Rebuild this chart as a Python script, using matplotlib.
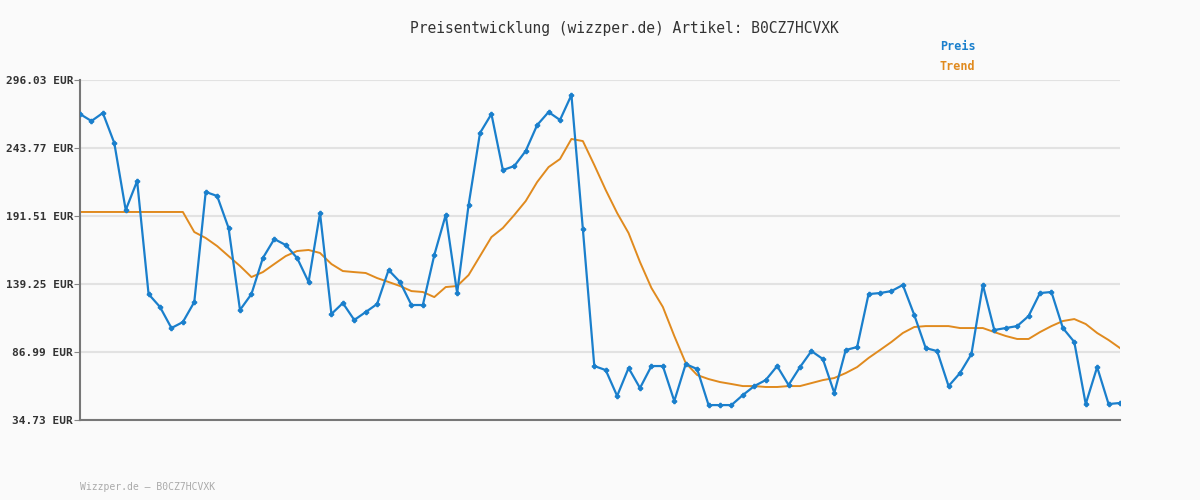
import matplotlib
matplotlib.use("Agg")
import matplotlib.pyplot as plt
import numpy as np

price = [269.9,264.5,270.7,247.6,196.1,218.4,131.5,121.6,105.4,110.0,
         125.4,210.0,206.9,182.3,119.3,131.5,159.2,173.8,169.2,159.2,
         140.8,193.8,116.2,124.6,111.6,117.7,123.9,150.0,140.8,123.1,
         123.1,161.5,192.3,132.3,199.9,255.3,269.9,226.8,229.9,241.5,
         261.4,271.4,265.3,284.5,181.5,76.2,73.1,53.2,74.7,59.3,
         76.2,76.2,49.3,77.7,73.9,46.2,46.2,46.2,53.9,60.8,
         65.4,76.2,61.6,75.4,87.7,81.6,55.5,88.5,90.8,131.5,
         132.3,133.8,138.5,115.4,90.0,87.7,60.8,70.8,85.4,138.5,
         103.9,105.4,106.9,114.6,132.3,133.1,105.4,94.7,47.0,75.4,
         47.0,47.8]
trend = [194.6]*10 + [179.2,174.6,168.4,160.7,153.1,144.6,148.4,154.6,160.7,164.6,
         165.4,163.1,154.6,149.2,148.4,147.7,143.8,140.8,137.7,133.8,
         133.1,129.2,136.9,137.7,146.1,160.7,175.3,182.3,192.3,203.0,
         217.6,229.1,235.3,250.7,
         249.1,230.7,211.5,193.8,178.4,156.1,136.2,121.6,99.3,78.5,
         69.3,66.2,63.9,62.4,60.8,60.8,60.1,60.1,60.8,60.8,
         63.1,65.4,67.0,70.8,75.4,82.4,88.5,94.7,101.6,106.2,
         106.9,106.9,106.9,105.4,105.4,105.4,102.3,99.3,97.0,97.0,
         102.3,106.9,110.8,112.3,108.5,101.6,96.2,90.0]
yticks = [34.73, 86.99, 139.25, 191.51, 243.77, 296.03]
title = "Preisentwicklung (wizzper.de) Artikel: B0CZ7HCVXK"
footer = "Wizzper.de – B0CZ7HCVXK"

mono = "DejaVu Sans Mono"
fig = plt.figure(figsize=(12, 5), dpi=100, facecolor="#fafafa")
ax = fig.add_axes([80/1200, 80/500, 1040/1200, 340/500])
ax.set_facecolor("#fafafa")
xp = np.arange(len(price))
xt = np.arange(len(trend))
ax.plot(xt, trend, color="#e08a1e", lw=1.4, zorder=2)
ax.plot(xp, price, color="#1a7fcc", lw=1.6, marker="P", ms=3, zorder=3)
ax.set_xlim(0, len(price)-1)
ax.set_ylim(yticks[0], yticks[-1])
ax.set_yticks(yticks)
ax.set_yticklabels([f"{v:.2f} EUR" for v in yticks], fontfamily=mono, fontsize=8, color="#333333", fontweight="bold")
ax.set_xticks([])
ax.tick_params(axis="y", length=4, color="#888888", pad=1)
ax.grid(axis="y", color="#e2e2e2", lw=1.5)
ax.set_axisbelow(True)
for s in ["top", "right"]:
    ax.spines[s].set_visible(False)
for s in ["left", "bottom"]:
    ax.spines[s].set_color("#777777")
    ax.spines[s].set_linewidth(1.5)
fig.text(624/1200, 1-28/500, title, ha="center", va="center", fontfamily=mono, fontsize=10.5, color="#333333")
fig.text(940/1200, 1-47/500, "Preis", ha="left", va="center", fontfamily=mono, fontsize=8.5, color="#1a7fcc", fontweight="bold")
fig.text(940/1200, 1-67/500, "Trend", ha="left", va="center", fontfamily=mono, fontsize=8.5, color="#e08a1e", fontweight="bold")
fig.text(80/1200, 1-487/500, footer, ha="left", va="center", fontfamily=mono, fontsize=7, color="#aaaaaa")
fig.savefig("out.png", dpi=100, facecolor="#fafafa")
